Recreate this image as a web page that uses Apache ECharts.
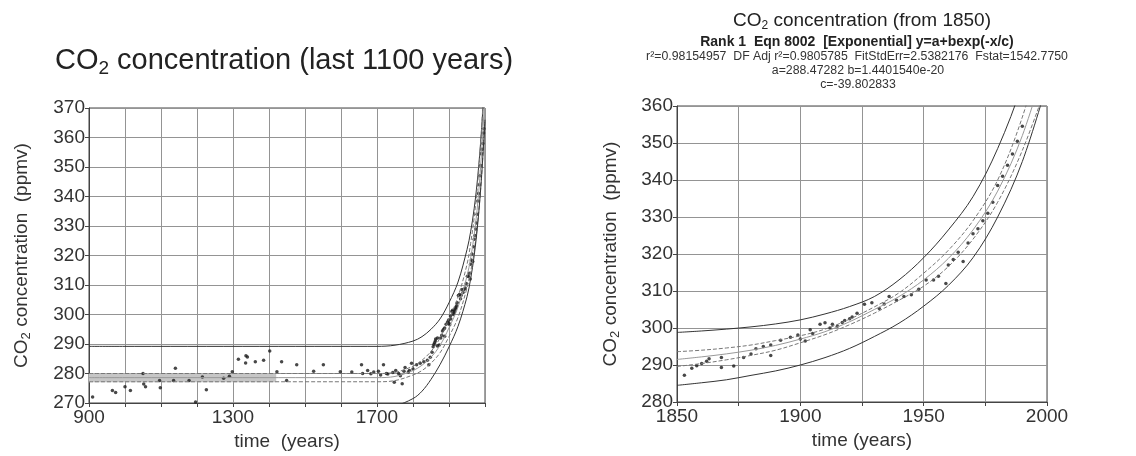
<!DOCTYPE html>
<html>
<head>
<meta charset="utf-8">
<script src="https://cdn.jsdelivr.net/npm/echarts@6/dist/echarts.min.js"></script>
<style>
  html, body { margin: 0; padding: 0; background: #fff; }
  #chart { width: 1136px; height: 456px; }
</style>
</head>
<body>
<div id="chart"></div>
<script>
// ice core samples, 900 - 1850 (left panel)
var iceYears = [910, 965, 974, 1000, 1015, 1050, 1052, 1057, 1096, 1098, 1140, 1135, 1178, 1196, 1215, 1226,
  1274, 1290, 1298, 1315, 1336, 1340, 1335, 1362, 1385, 1402, 1422, 1435, 1449, 1477, 1524, 1551, 1598,
  1630, 1657, 1660, 1674, 1683, 1691, 1704, 1710, 1718, 1726, 1730, 1744, 1748, 1752, 1760, 1765, 1770,
  1775, 1778, 1787, 1790, 1796, 1800, 1810, 1820, 1830, 1840, 1844, 1848];
var iceCO2 = [272, 274.2, 273.6, 275.5, 274.2, 280, 276.4, 275.5, 277.6, 275.2, 281.8, 277.6, 277.6, 270.3, 278.8, 274.5,
  278.4, 279.1, 280.6, 284.8, 286, 285.6, 283.6, 284, 284.5, 287.6, 280.6, 284, 277.6, 283, 280.8, 283, 280.6,
  280.5, 283, 280, 281, 279.9, 280.5, 280.8, 279.5, 283, 280, 279.8, 280.3, 277, 281, 280, 279.2, 276.5,
  280.8, 282, 280.5, 281, 283.5, 281.5, 283, 283.5, 284, 284.5, 283, 285.5];

// samples from 1850 on (both panels)
var recentYears = [1853, 1856, 1858, 1860, 1862, 1863, 1868, 1868, 1873, 1877, 1880, 1882, 1885, 1888, 1888,
  1892, 1896, 1899, 1900, 1902, 1904, 1905, 1908, 1910, 1912, 1913, 1915, 1917, 1918, 1920, 1921, 1923,
  1926, 1929, 1932, 1934, 1936, 1939, 1942, 1945, 1948, 1951, 1954, 1956, 1959, 1960, 1962, 1964, 1966,
  1968, 1970, 1972, 1974, 1976, 1978, 1980, 1982, 1984, 1986, 1988, 1990];
var recentCO2 = [287.2, 289.1, 289.8, 290.4, 291, 291.7, 289.3, 292, 289.7, 292, 293, 294.4, 295, 292.6, 295.4,
  296.7, 297.5, 298.1, 297, 296.5, 299.5, 298.5, 301, 301.4, 300, 301, 300.5, 301.5, 302, 302.5, 303, 304,
  306.4, 306.8, 305.3, 306.5, 308.5, 307.5, 308.5, 309, 310.5, 313, 313, 314, 312, 317, 318.5, 320.5, 318,
  323, 325.5, 326.8, 329, 331, 334, 338.5, 341, 344, 347, 350.5, 354.5];
// latest samples, only inside the left panel's range
var lateYears = [1992, 1994, 1996, 1997];
var lateCO2 = [356, 358, 361.5, 363];

// fitted curve and bands, left panel
var fitYearsL = [900, 1000, 1100, 1200, 1300, 1400, 1500, 1600, 1700, 1750, 1800, 1825, 1850, 1875,
  1900, 1925, 1950, 1960, 1970, 1980, 1990, 2000];
var upperPredL = [289.2, 289.2, 289.2, 289.2, 289.2, 289.2, 289.2, 289.2, 289.2, 289.6, 291, 292.5, 295, 298.5,
  304, 311, 322, 328, 336, 347, 362, 382];
var confUpL = [280, 280, 280, 280, 280, 280, 280, 280, 280, 280.4, 282.5, 284.5, 287.5, 292,
  298.5, 306, 317, 324, 333, 345, 362, 385];
var fitL = [278.6, 278.6, 278.6, 278.6, 278.6, 278.6, 278.6, 278.6, 278.6, 279, 281, 282.8, 285.5, 289.5,
  295.5, 302.5, 313, 319, 327, 338, 354, 375];
var confLoL = [277.2, 277.2, 277.2, 277.2, 277.2, 277.2, 277.2, 277.2, 277.2, 277.6, 279.5, 281, 283.5, 287,
  292.5, 299, 309, 314.5, 321.5, 331.5, 346, 366];
var lowerPredL = [268, 268, 268, 268, 268, 268, 268, 268, 268, 269, 271.5, 274, 278, 283,
  289, 296, 306, 312, 320, 331, 346, 366];
var bandYears = [900, 1420];
var bandLow = [277, 277];
var bandHigh = [280, 280];

// fitted curve and bands, right panel
var fitYearsR = [1850, 1860, 1870, 1880, 1890, 1900, 1910, 1920, 1930, 1940, 1950, 1960, 1970, 1980, 1990, 2000];
var upperPredR = [298.8, 299.2, 299.7, 300.3, 301.1, 302.2, 303.8, 305.8, 308.5, 313, 319, 326.5, 335.5, 348.5, 366, 390];
var confUpR = [293.6, 294, 294.6, 295.4, 296.6, 297.9, 299.7, 302.4, 305.7, 309.5, 314.8, 321, 329, 340, 357, 380];
var fitR = [291.5, 292.2, 293, 294, 295.3, 297, 299, 301.7, 305, 308.5, 313, 318.8, 326.5, 337, 352, 373];
var confLoR = [289.6, 290.4, 291.4, 292.6, 294, 296, 298.2, 300.9, 304, 307.5, 311.3, 316.6, 324, 334, 348, 366];
var lowerPredR = [284.5, 285.2, 286, 287.2, 288.4, 290, 292, 294.5, 297.7, 301.3, 305.9, 311.5, 319, 330, 345, 366];

var FONT = 'Liberation Sans, Arial, sans-serif';

function pairs(xs, ys) {
    return xs.map(function (x, i) { return [x, ys[i]]; });
}

var sub = {
    n: {fontSize: 19, fontFamily: FONT, color: '#333'},
    s: {fontSize: 13, fontFamily: FONT, color: '#333', padding: [10, 0, 0, 0]}
};

function yAxis(gridIndex, min, max, gap) {
    return {
        type: 'value', gridIndex: gridIndex, min: min, max: max, interval: 10,
        name: '{n|CO}{s|2}{n| concentration  (ppmv)}',
        nameLocation: 'middle', nameGap: gap,
        nameTextStyle: {rich: sub},
        axisLine: {show: true, lineStyle: {color: '#444'}},
        axisTick: {show: true, length: 4, lineStyle: {color: '#444'}},
        axisLabel: {fontSize: 19, fontFamily: FONT, color: '#333', margin: 4},
        splitLine: {lineStyle: {color: '#949494'}}
    };
}

function xAxis(gridIndex, min, max, interval, every, name) {
    return {
        type: 'value', gridIndex: gridIndex, min: min, max: max, interval: interval,
        name: name, nameLocation: 'middle', nameGap: 29,
        nameTextStyle: {fontSize: 19, fontFamily: FONT, color: '#333'},
        axisLine: {show: true, onZero: false, lineStyle: {color: '#444'}},
        axisTick: {show: true, length: 4, lineStyle: {color: '#444'}},
        axisLabel: {
            fontSize: 19, fontFamily: FONT, color: '#333', margin: 5,
            formatter: function (v) { return (v - min) % every === 0 ? String(v) : ''; }
        },
        splitLine: {show: true, lineStyle: {color: '#949494'}}
    };
}

function curve(idx, data, color, type, width) {
    return {
        type: 'line', xAxisIndex: idx, yAxisIndex: idx, data: data,
        smooth: 0.35, showSymbol: false, silent: true,
        lineStyle: {color: color, type: type, width: width}
    };
}

function dots(idx, data) {
    return {
        type: 'scatter', xAxisIndex: idx, yAxisIndex: idx, data: data,
        symbolSize: 3.5, itemStyle: {color: '#1a1a1a'}, silent: true
    };
}

var bandSeries = curve(0, pairs(fitYearsL, fitL), '#999', 'solid', 1);
bandSeries.markArea = {
    silent: true,
    itemStyle: {color: '#c6c6c6'},
    data: [[{coord: [bandYears[0], bandLow[0]]}, {coord: [bandYears[1], bandHigh[1]]}]]
};

var chart = echarts.init(document.getElementById('chart'));
chart.setOption({
    animation: false,
    backgroundColor: '#fff',
    grid: [
        {left: 89, right: 651, top: 108, bottom: 53, show: true, borderColor: '#444', borderWidth: 1},
        {left: 677, right: 89, top: 106, bottom: 54, show: true, borderColor: '#444', borderWidth: 1}
    ],
    xAxis: [xAxis(0, 900, 2000, 100, 400, 'time  (years)'), xAxis(1, 1850, 2000, 25, 50, 'time (years)')],
    yAxis: [yAxis(0, 270, 370, 56), yAxis(1, 280, 360, 55)],
    graphic: [
        {type: 'text', x: 284, y: 61, style: {
            text: '{n|CO}{s|2}{n| concentration (last 1100 years)}', align: 'center', verticalAlign: 'middle',
            rich: {n: {fontSize: 29, fontFamily: FONT, fill: '#222'},
                   s: {fontSize: 19, fontFamily: FONT, fill: '#222', padding: [15, 0, 0, 0]}}}},
        {type: 'text', x: 862, y: 21, style: {
            text: '{n|CO}{s|2}{n| concentration (from 1850)}', align: 'center', verticalAlign: 'middle',
            rich: {n: {fontSize: 19, fontFamily: FONT, fill: '#222'},
                   s: {fontSize: 12, fontFamily: FONT, fill: '#222', padding: [10, 0, 0, 0]}}}},
        {type: 'text', x: 857, y: 42, style: {
            text: 'Rank 1  Eqn 8002  [Exponential] y=a+bexp(-x/c)', align: 'center', verticalAlign: 'middle',
            font: 'bold 14px ' + FONT, fill: '#222'}},
        {type: 'text', x: 857, y: 57, style: {
            text: 'r²=0.98154957  DF Adj r²=0.9805785  FitStdErr=2.5382176  Fstat=1542.7750',
            align: 'center', verticalAlign: 'middle', font: '12.3px ' + FONT, fill: '#333'}},
        {type: 'text', x: 858, y: 71, style: {
            text: 'a=288.47282 b=1.4401540e-20', align: 'center', verticalAlign: 'middle',
            font: '12.3px ' + FONT, fill: '#333'}},
        {type: 'text', x: 858, y: 85, style: {
            text: 'c=-39.802833', align: 'center', verticalAlign: 'middle',
            font: '12.3px ' + FONT, fill: '#333'}}
    ],
    series: [
        // left panel
        bandSeries,
        curve(0, pairs(fitYearsL, upperPredL), '#333', 'solid', 1),
        curve(0, pairs(fitYearsL, confUpL), '#777', 'dashed', 1),
        curve(0, pairs(fitYearsL, confLoL), '#777', 'dashed', 1),
        curve(0, pairs(fitYearsL, lowerPredL), '#333', 'solid', 1),
        dots(0, pairs(iceYears, iceCO2).concat(pairs(recentYears, recentCO2), pairs(lateYears, lateCO2))),
        // right panel
        curve(1, pairs(fitYearsR, upperPredR), '#333', 'solid', 1),
        curve(1, pairs(fitYearsR, confUpR), '#777', 'dashed', 1),
        curve(1, pairs(fitYearsR, fitR), '#999', 'solid', 1),
        curve(1, pairs(fitYearsR, confLoR), '#777', 'dashed', 1),
        curve(1, pairs(fitYearsR, lowerPredR), '#333', 'solid', 1),
        dots(1, pairs(recentYears, recentCO2))
    ]
});
</script>
</body>
</html>
